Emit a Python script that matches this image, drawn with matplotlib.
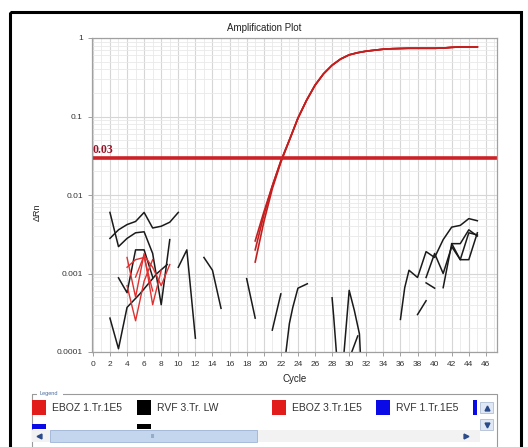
import matplotlib
matplotlib.use("Agg")
import matplotlib.pyplot as plt
from matplotlib.patches import Rectangle
from matplotlib.ticker import LogLocator, MultipleLocator, NullFormatter
import numpy as np

plt.rcParams['font.family'] = ['Liberation Sans', 'DejaVu Sans']

# amplification replicates (EBOZ), cycles 19..45
amp_cycles = list(range(19, 46))
amp_tail = [0.05, 0.095, 0.16, 0.25, 0.35, 0.45, 0.54, 0.61, 0.65, 0.68, 0.70,
            0.72, 0.73, 0.735, 0.74, 0.74, 0.74, 0.74, 0.745, 0.76, 0.77, 0.77, 0.77]
amp_rep1 = [0.0014, 0.0045, 0.012, 0.026] + amp_tail
amp_rep2 = [0.0020, 0.0055, 0.013, 0.027] + amp_tail
amp_rep3 = [0.0026, 0.0060, 0.013, 0.027] + amp_tail

threshold = 0.03

# background noise traces: (cycles, delta Rn)
red_noise = [
    ([4, 5, 6, 7, 8], [0.0016, 0.0005, 0.0018, 0.0004, 0.0011]),
    ([4, 5, 6, 7], [0.0007, 0.00025, 0.0008, 0.0015]),
    ([5, 6, 7, 8, 9], [0.0009, 0.0017, 0.0012, 0.0007, 0.0013]),
    ([4, 5, 6, 7], [0.0012, 0.0015, 0.0016, 0.0006]),
]
black_noise = [
    ([2, 3, 4, 5, 6, 7, 8, 9, 10], [0.0028, 0.0036, 0.0042, 0.0046, 0.006, 0.0038, 0.004, 0.0045, 0.006]),
    ([2, 3, 4, 5, 6, 7, 8, 9], [0.006, 0.0022, 0.0028, 0.0033, 0.0034, 0.0018, 0.0004, 0.0027]),
    ([3, 4, 5, 6, 7], [0.00088, 0.00057, 0.002, 0.002, 0.0009]),
    ([2, 3, 4, 5.5, 7.5, 8.7], [0.00027, 0.00011, 0.00037, 0.00055, 0.001, 0.0013]),
    ([10, 11, 12], [0.0012, 0.002, 0.00015]),
    ([13, 14, 15], [0.0016, 0.0011, 0.00036]),
    ([18, 19], [0.00086, 0.00027]),
    ([21, 22], [0.00019, 0.00055]),
    ([22.6, 23, 23.4, 24, 25.1], [0.0001, 0.00023, 0.00037, 0.00065, 0.00074]),
    ([28, 28.2, 28.5], [0.00049, 0.00027, 0.0001]),
    ([29.4, 30, 30.6, 31.2, 31.3], [0.0001, 0.00061, 0.00034, 0.00017, 0.0001]),
    ([30.3, 31], [0.0001, 0.00016]),
    ([36, 36.5, 37, 38, 39, 40, 41, 42, 43, 44, 45],
     [0.00026, 0.00066, 0.0011, 0.00089, 0.0019, 0.0016, 0.0027, 0.0039, 0.0041, 0.005, 0.0047]),
    ([39, 40, 41, 42, 43, 44, 45], [0.00089, 0.0018, 0.001, 0.0022, 0.0015, 0.0033, 0.0031]),
    ([41, 42, 43, 44, 45], [0.00066, 0.0024, 0.0015, 0.0015, 0.0033]),
    ([42, 43, 44, 45], [0.0024, 0.0024, 0.0036, 0.003]),
    ([39, 40], [0.00076, 0.00065]),
    ([38, 39], [0.0003, 0.00045]),
]

legend_row1 = ["EBOZ 1.Tr.1E5", "RVF 3.Tr. LW", "EBOZ 3.Tr.1E5", "RVF 1.Tr.1E5"]
legend_row1_colors = ["#e21b1b", "#000000", "#e21b1b", "#0a0ae6"]
legend_row1_x = [32, 137, 272, 376]

W, H = 528, 447
fig = plt.figure(figsize=(W / 100, H / 100), dpi=100)
fig.patch.set_facecolor("white")

# pixel-space overlay for the window chrome and legend widget
ui = fig.add_axes([0, 0, 1, 1], zorder=0)
ui.set_xlim(0, W)
ui.set_ylim(H, 0)
ui.axis("off")


def box(x0, y0, w, h, **kw):
    ui.add_patch(Rectangle((x0, y0), w, h, **kw))


box(10, 12, 511, 440, fill=False, edgecolor="black", linewidth=2.2)

ax = fig.add_axes([92 / W, 1 - 352 / H, (497 - 92) / W, (352 - 38) / H], zorder=1)
ax.set_yscale("log")
ax.set_ylim(1e-4, 1)
ax.set_xlim(-0.1, 47.3)

ax.xaxis.set_major_locator(MultipleLocator(2))
ax.xaxis.set_minor_locator(MultipleLocator(1))
ax.yaxis.set_major_locator(LogLocator(base=10))
ax.yaxis.set_minor_locator(LogLocator(base=10, subs=np.arange(2, 10)))
ax.yaxis.set_minor_formatter(NullFormatter())
ax.set_yticks([1e-4, 1e-3, 1e-2, 1e-1, 1])
ax.set_yticklabels(["0.0001", "0.001", "0.01", "0.1", "1"])
ax.grid(True, which="major", color="#d6d6d6", linewidth=0.8)
ax.grid(True, which="minor", color="#e9e9e9", linewidth=0.6)
ax.set_axisbelow(True)
for sp in ax.spines.values():
    sp.set_color("#a0a0a0")
    sp.set_linewidth(0.9)
ax.tick_params(which="major", labelsize=6, colors="#a0a0a0", labelcolor="#333333", length=3, width=0.7)
ax.tick_params(which="minor", length=0)

for cyc, vals in black_noise:
    ax.plot(cyc, vals, color="#1a1a1a", linewidth=1.1)
for cyc, vals in red_noise:
    ax.plot(cyc, vals, color="#e03030", linewidth=1.0)
for rep in (amp_rep1, amp_rep2, amp_rep3):
    ax.plot(amp_cycles, rep, color="#c41e1e", linewidth=1.2)

ax.axhline(threshold, color="#cc2127", linewidth=2.6)
ax.text(0, threshold * 1.05, "0.03", color="#9a1428", fontsize=8.5, fontweight="bold",
        family="Liberation Serif", ha="left", va="bottom")

ax.set_xlabel("Cycle", fontsize=7, labelpad=4, color="#222222")
ui.text(37, 212, "\u0394Rn", rotation=90, fontsize=6.5, ha="center", va="center", color="#222222")
ui.text(264, 28, "Amplification Plot", fontsize=7, ha="center", va="center", color="#222222")

# legend panel
box(32, 394, 465, 60, fill=False, edgecolor="#9a9a9a", linewidth=0.8)
box(37, 391, 26, 6, facecolor="white", edgecolor="none")
ui.text(40, 394, "Legend", fontsize=4, color="#4a6aa0", ha="left", va="center")
for label, col, x0 in zip(legend_row1, legend_row1_colors, legend_row1_x):
    box(x0, 400, 14, 15, facecolor=col, edgecolor="none")
    ui.text(x0 + 20, 408, label, fontsize=7.5, color="#333333", ha="left", va="center")
box(473, 400, 4, 15, facecolor="#0a0ae6", edgecolor="none")
# second row, mostly hidden under the scrollbar
for x0, col in [(32, "#0a0ae6"), (137, "#000000")]:
    box(x0, 424, 14, 5, facecolor=col, edgecolor="none")
# vertical scroll buttons
for y0, mk in [(402, "^"), (419, "v")]:
    box(480, y0, 13, 11, facecolor="#dfe8f4", edgecolor="#b0bfd6", linewidth=0.6)
    ui.plot([486.5], [y0 + 5.5], marker=mk, markersize=3.5, color="#2a4a8a", linestyle="none")
# horizontal scrollbar
box(32, 430, 448, 12, facecolor="#f2f2f2", edgecolor="none")
box(50, 430, 207, 12, facecolor="#c4d6ee", edgecolor="#9db4d6", linewidth=0.6)
ui.text(153, 436, "III", fontsize=4, color="#6a84ad", ha="center", va="center")
ui.plot([39], [436], marker="<", markersize=3.5, color="#2a4a8a", linestyle="none")
ui.plot([466], [436], marker=">", markersize=3.5, color="#2a4a8a", linestyle="none")

fig.savefig("out.png", dpi=100, facecolor="white")
